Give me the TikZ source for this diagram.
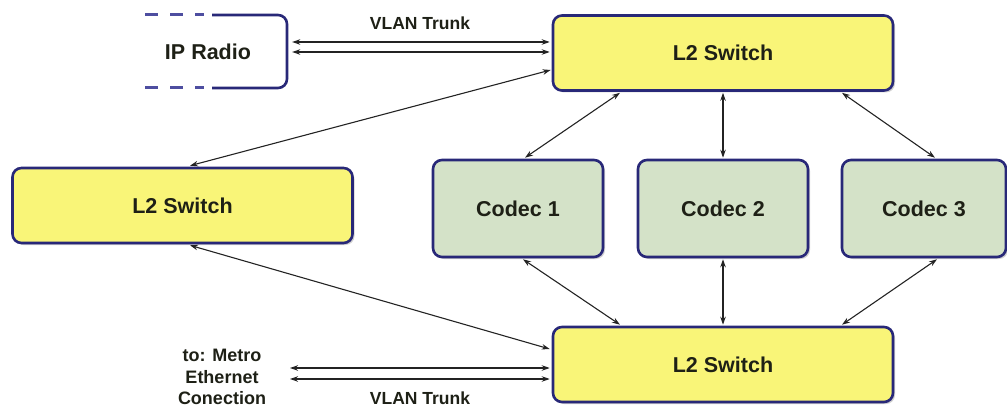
\documentclass[tikz,border=0pt]{standalone}
\usepackage{fontspec}
\setmainfont{Liberation Sans}
\usetikzlibrary{arrows.meta,calc,shadows}
\definecolor{boxline}{RGB}{40,40,120}
\definecolor{dashline}{RGB}{78,78,160}
\definecolor{swfill}{RGB}{249,245,120}
\definecolor{cofill}{RGB}{212,226,200}
\definecolor{txt}{RGB}{30,32,22}
\definecolor{wire}{RGB}{35,35,35}
\tikzset{
  box/.style={draw=boxline, line width=2.6pt, rounded corners=9pt, text=txt,
    font=\fontsize{21.5}{24}\selectfont\bfseries,
    drop shadow={shadow xshift=2pt, shadow yshift=-2pt, fill=black, opacity=0.18}},
  switchbox/.style={box, fill=swfill, minimum width=340pt, minimum height=75pt},
  codecbox/.style={box, fill=cofill, minimum height=97pt},
  link/.style={draw=wire, line width=1.1pt, {Stealth[length=8pt,width=5.5pt]}-{Stealth[length=8pt,width=5.5pt]}},
  biglink/.style={link, line width=1.8pt},
  lbl/.style={text=txt, font=\fontsize{17.5}{19}\selectfont\bfseries},
  metro/.style={text=txt, align=center, inner sep=0pt, font=\fontsize{18}{21.5}\selectfont\bfseries}
}
\begin{document}
\begin{tikzpicture}[x=1pt,y=-1pt]
\useasboundingbox (0,0) rectangle (1007,409);
% IP Radio (partly open outline)
\node[minimum width=142pt, minimum height=74pt, inner sep=0pt, text=txt,
      font=\fontsize{21.5}{24}\selectfont\bfseries] (ipr) at (208,51.5) {IP Radio};
\draw[boxline, line width=2.6pt, rounded corners=9pt]
  (212,15) -- (287,15) -- (287,88) -- (212,88);
\draw[dashline, line width=3pt, dash pattern=on 13pt off 12pt]
  (145,15) -- (204,15);
\draw[dashline, line width=3pt, dash pattern=on 13pt off 12pt]
  (145,88) -- (204,88);
% boxes
\node[switchbox] (sw1) at (723,53) {L2 Switch};
\node[switchbox] (sw2) at (182.5,205.5) {L2 Switch};
\node[switchbox] (sw3) at (723,364.5) {L2 Switch};
\node[codecbox, minimum width=170pt] (c1) at (518,208.5) {Codec 1};
\node[codecbox, minimum width=170pt] (c2) at (723,208.5) {Codec 2};
\node[codecbox, minimum width=164pt] (c3) at (924,208.5) {Codec 3};
% labels
\node[lbl] (vt1) at (420,23) {VLAN Trunk};
\node[lbl] (vt2) at (420,398) {VLAN Trunk};
\node[metro] (mt) at (222,377) {to: Metro\\Ethernet\\Conection};
\coordinate (metroend) at (290,373);
% trunks
\draw[link] ($(ipr.east)+(13,-9.5)$) -- ($(sw1.west)+(-2,-11)$);
\draw[link] ($(ipr.east)+(13,0.5)$) -- ($(sw1.west)+(-2,-1)$);
\draw[link] ($(metroend)+(0,-5)$) -- ($(sw3.west)+(-2,3.5)$);
\draw[link] ($(metroend)+(0,6)$) -- ($(sw3.west)+(-2,14.5)$);
% switch links
\draw[link] ($(sw1.west)+(-1,17)$) -- ($(sw2.north)+(7.5,-1)$);
\draw[link] ($(sw2.south)+(7.5,1)$) -- ($(sw3.west)+(-2,-15.5)$);
% codec links
\draw[link] ($(sw1.south)+(-103,1)$) -- ($(c1.north)+(7,-1)$);
\draw[link] ($(sw1.south)+(0,1)$) -- ($(c2.north)+(0,-1)$);
\draw[link] ($(sw1.south)+(119,1)$) -- ($(c3.north)+(11,-1)$);
\draw[link] ($(c1.south)+(5,1)$) -- ($(sw3.north)+(-103,-1)$);
\draw[biglink] ($(c2.south)+(0,1)$) -- ($(sw3.north)+(0,-1)$);
\draw[link] ($(c3.south)+(13,1)$) -- ($(sw3.north)+(119,-1)$);
\end{tikzpicture}
\end{document}
